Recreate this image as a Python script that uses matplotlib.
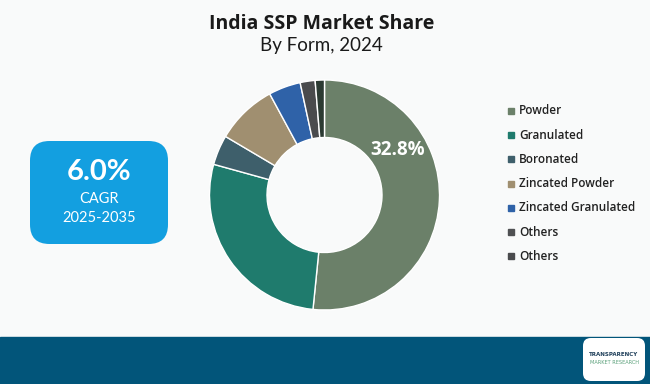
import matplotlib
matplotlib.use("Agg")
import matplotlib.pyplot as plt
from matplotlib.patches import FancyBboxPatch, Rectangle

categories = ["Powder", "Granulated", "Boronated", "Zincated Powder",
              "Zincated Granulated", "Others", "Others"]
shares = [51.6, 27.7, 4.2, 8.6, 4.5, 2.1, 1.3]
slice_colors = ["#6b8069", "#1f7b6d", "#3e5f6b", "#a08f70", "#2f62a8", "#4a4b4d", "#2b3a32"]
legend_colors = ["#6b8069", "#1f7b6d", "#3e5f6b", "#a08f70", "#2f62a8", "#4f5052", "#4a4b4d"]
highlight_label = "32.8%"
title = "India SSP Market Share"
subtitle = "By Form, 2024"
cagr_value = "6.0%"
cagr_label = "CAGR"
cagr_period = "2025-2035"

W, H = 650, 384
fig = plt.figure(figsize=(W / 100, H / 100), dpi=100)
fig.patch.set_facecolor("#f9fafa")

def fx(px):
    return px / W

def fy(py):
    return 1 - py / H

# Title
fig.text(fx(322), fy(24), title, ha="center", va="center", fontsize=14,
         fontweight="bold", family="Open Sans", color="#1a1a1a")
fig.text(fx(321), fy(46), subtitle, ha="center", va="center", fontsize=13.5,
         fontweight="normal", family="Lato", color="#1a1a1a")

# Donut
cx, cy, R = 324.5, 195, 115
ax = fig.add_axes([fx(cx - R), fy(cy + R), 2 * R / W, 2 * R / H])
ax.pie(shares, colors=slice_colors, startangle=90, counterclock=False, radius=1,
       wedgeprops=dict(width=0.5, edgecolor="white", linewidth=1.0))
ax.set_xlim(-1, 1)
ax.set_ylim(-1, 1)
ax.set_aspect("equal")
ax.axis("off")
ax.text(0.64, 0.39, highlight_label, ha="center", va="center", color="white",
        fontsize=13.5, fontweight="bold", family="Open Sans")

# Legend
y0, dy = 111, 24.2
for i, (lab, col) in enumerate(zip(categories, legend_colors)):
    yy = y0 + i * dy
    fig.patches.append(Rectangle((fx(508), fy(yy + 3)), 6 / W, 6 / H,
                                 transform=fig.transFigure, color=col))
    fig.text(fx(519), fy(yy), lab, ha="left", va="center", fontsize=8.5,
             fontweight="semibold", family="Open Sans", color="#222222")

# CAGR box
box = FancyBboxPatch((fx(30), fy(244)), 138 / W, 103 / H,
                     boxstyle="round,pad=0,rounding_size=0.03",
                     transform=fig.transFigure, facecolor="#139fe0",
                     edgecolor="none", mutation_aspect=W / H)
fig.patches.append(box)
fig.text(fx(99), fy(172), cagr_value, ha="center", va="center", fontsize=21,
         fontweight="bold", family="Lato", color="white")
fig.text(fx(99), fy(199), cagr_label, ha="center", va="center", fontsize=10.5,
         family="Lato", color="white")
fig.text(fx(99), fy(218), cagr_period, ha="center", va="center", fontsize=10.5,
         family="Lato", color="white")

# Footer
fig.patches.append(Rectangle((0, 0), 1, (H - 337) / H, transform=fig.transFigure,
                             color="#02557a"))
logo = FancyBboxPatch((fx(583), fy(381)), 62 / W, 43 / H,
                      boxstyle="round,pad=0,rounding_size=0.012",
                      transform=fig.transFigure, facecolor="white",
                      edgecolor="none", mutation_aspect=W / H)
fig.patches.append(logo)
fig.text(fx(614), fy(355), "TRANSPARENCY", ha="center", va="center", fontsize=4,
         fontweight="bold", color="#1f3f5a")
fig.text(fx(614), fy(362), "MARKET RESEARCH", ha="center", va="center", fontsize=3.6,
         color="#5aa07a")

fig.savefig("out.png", dpi=100, facecolor=fig.get_facecolor())
